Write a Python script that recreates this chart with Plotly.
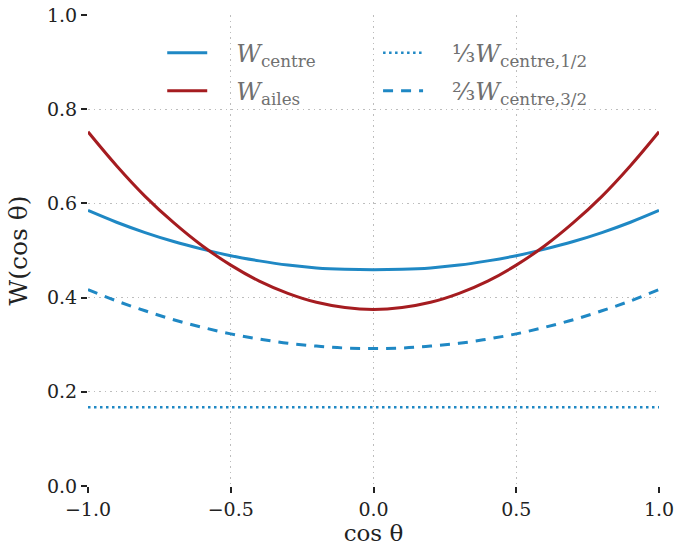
import plotly.graph_objects as go

cos_theta = [-1.0, -0.9, -0.8, -0.7, -0.6, -0.5, -0.4, -0.3, -0.2, -0.1, 0.0,
             0.1, 0.2, 0.3, 0.4, 0.5, 0.6, 0.7, 0.8, 0.9, 1.0]
w_centre = [0.585, 0.560, 0.538, 0.519, 0.503, 0.489, 0.478, 0.469, 0.463, 0.460, 0.459,
            0.460, 0.463, 0.469, 0.478, 0.489, 0.503, 0.519, 0.538, 0.560, 0.585]
w_ailes = [0.752, 0.680, 0.615, 0.559, 0.510, 0.469, 0.435, 0.409, 0.390, 0.379, 0.375,
           0.379, 0.390, 0.409, 0.435, 0.469, 0.510, 0.559, 0.615, 0.680, 0.752]
w_half = [0.167] * 21
w_three_half = [0.417, 0.393, 0.372, 0.353, 0.337, 0.323, 0.312, 0.303, 0.297, 0.293, 0.292,
                0.293, 0.297, 0.303, 0.312, 0.323, 0.337, 0.353, 0.372, 0.393, 0.417]

x_ticks = [-1.0, -0.5, 0.0, 0.5, 1.0]
x_ticklabels = ["−1.0", "−0.5", "0.0", "0.5", "1.0"]
y_ticks = [0.0, 0.2, 0.4, 0.6, 0.8, 1.0]
y_ticklabels = ["0.0", "0.2", "0.4", "0.6", "0.8", "1.0"]

BLUE = "#1f88c4"
RED = "#a51c20"
FONT = "DejaVu Serif"
GAP = "\u2002\u2002"

fig = go.Figure()
fig.add_trace(go.Scatter(x=cos_theta, y=w_centre, mode="lines", line=dict(color=BLUE, width=3, shape="spline"),
                         name=GAP + "<i>W</i><sub>centre</sub>", legend="legend", legendgroup="a"))
fig.add_trace(go.Scatter(x=cos_theta, y=w_ailes, mode="lines", line=dict(color=RED, width=3, shape="spline"),
                         name=GAP + "<i>W</i><sub>ailes</sub>", legend="legend", legendgroup="b"))
fig.add_trace(go.Scatter(x=cos_theta, y=w_half, mode="lines", line=dict(color=BLUE, width=2.5, dash="2.5px,3.5px"),
                         name=GAP + "⅓<i>W</i><sub>centre,1/2</sub>", legend="legend2", legendgroup="c"))
fig.add_trace(go.Scatter(x=cos_theta, y=w_three_half, mode="lines",
                         line=dict(color=BLUE, width=3, dash="10px,8px", shape="spline"),
                         name=GAP + "⅔<i>W</i><sub>centre,3/2</sub>", legend="legend2", legendgroup="d"))

grid = dict(showgrid=True, gridcolor="#bdbdbd", griddash="1.5px,4px", gridwidth=1.2,
            showline=False, zeroline=False, ticks="outside", ticklen=6, tickwidth=1.5, tickcolor="#222",
            automargin=False, ticklabeloverflow="allow",
            tickfont=dict(family=FONT, size=19, color="#222"))

fig.update_xaxes(range=[-1.0, 1.0], tickvals=x_ticks, ticktext=x_ticklabels,
                 title=dict(text="cos θ", font=dict(family=FONT, size=23, color="#222"), standoff=4), **grid)
fig.update_yaxes(range=[0.0, 1.0], tickvals=y_ticks, ticktext=y_ticklabels,
                 title=dict(text="W(cos θ)", font=dict(family=FONT, size=25, color="#222"), standoff=12), **grid)

legend_common = dict(font=dict(family=FONT, size=24, color="#707070"), bgcolor="rgba(0,0,0,0)",
                     itemwidth=40, tracegroupgap=4, xanchor="left", yanchor="top")
fig.update_layout(
    width=679, height=550,
    margin=dict(l=88, r=20, t=15, b=64),
    plot_bgcolor="white", paper_bgcolor="white",
    showlegend=True,
    legend=dict(x=0.13, y=0.967, **legend_common),
    legend2=dict(x=0.508, y=0.967, **legend_common),
)

fig.write_html("out.html", config={"displayModeBar": False},
               post_script="document.body.style.margin='0';document.body.style.overflow='hidden';")
